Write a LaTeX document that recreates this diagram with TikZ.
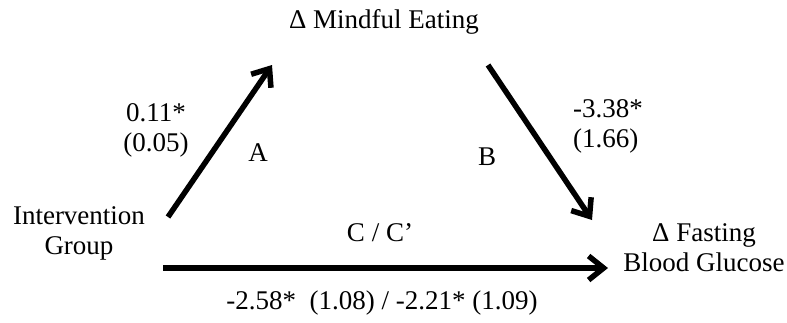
\documentclass[tikz,border=0pt]{standalone}
\usepackage{fontspec}
\setmainfont{Liberation Serif}
\usetikzlibrary{arrows.meta}
\begin{document}
\begin{tikzpicture}[x=1pt,y=-1pt,
  lbl/.style={font=\fontsize{27}{30}\selectfont, inner sep=0pt, align=center},
  path arrow/.style={line width=5.5pt, -{Straight Barb[length=15pt,width=24pt]}}]
\useasboundingbox (0,0) rectangle (787,322);
\node[lbl] (med) at (384,22) {Δ Mindful Eating};
\node[lbl] (iv) at (79,233) {Intervention\\Group};
\node[lbl] (dv) at (704,248) {Δ Fasting\\Blood Glucose};
\node[lbl] (ca) at (156,130) {0.11*\\(0.05)};
\node[lbl, align=left, anchor=west] (cb) at (573,126) {-3.38*\\(1.66)};
\node[lbl] (la) at (258,153) {A};
\node[lbl] (lb) at (487,157) {B};
\node[lbl] (lc) at (380,233) {C / C’};
\node[lbl] (cc) at (382,303) {-2.58*\ \ (1.08) / -2.21* (1.09)};
\coordinate (a1) at (168,217);
\coordinate (a2) at (272,65);
\coordinate (b1) at (488,65);
\coordinate (b2) at (592,220);
\coordinate (c1) at (163,268);
\coordinate (c2) at (608,268);
\draw[path arrow] (a1) -- (a2);
\draw[path arrow] (b1) -- (b2);
\draw[path arrow] (c1) -- (c2);
\end{tikzpicture}
\end{document}
